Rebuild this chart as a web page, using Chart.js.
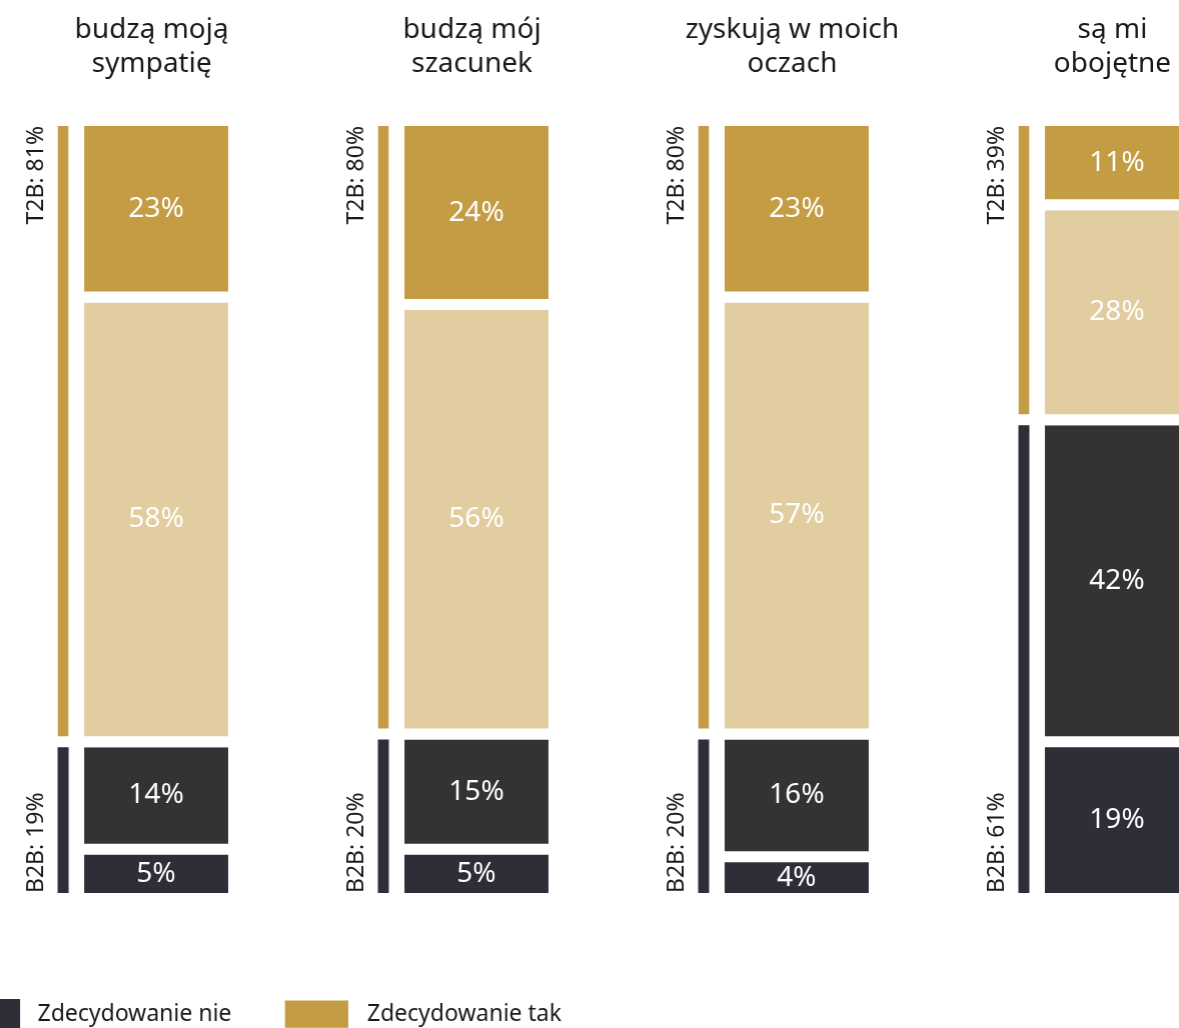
<!DOCTYPE html>
<html>
<head>
<meta charset="utf-8">
<script src="https://cdn.jsdelivr.net/npm/chart.js@4"></script>
<style>
  html, body { margin: 0; padding: 0; background: #fff; overflow: hidden; }
  #wrap { position: absolute; left: -98px; top: 2px; width: 1327.5px; height: 1037px; }
</style>
</head>
<body>
<div id="wrap"><canvas id="chart"></canvas></div>
<script>
// Survey answers per statement (percent)
const categories = [
  ["budzą moją", "sympatię"],
  ["budzą mój", "szacunek"],
  ["zyskują w moich", "oczach"],
  ["są mi", "obojętne"],
];
const zdecydowanieTak = [23, 24, 23, 11];
const raczejTak = [58, 56, 57, 28];
const raczejNie = [14, 15, 16, 42];
const zdecydowanieNie = [5, 5, 4, 19];
const t2b = [81, 80, 80, 39];
const b2b = [19, 20, 20, 61];
const legendShown = ["Zdecydowanie nie", "Zdecydowanie tak"];

const FONT = "'Noto Sans', sans-serif";
const GOLD = "#C49C44";
const BEIGE = "#E1CDA0";
const GREY = "#333333";
const NAVY = "#2E2E38";
const GAP = 11;

const segment = (label, data, color, stack, width, gapBelow) => ({
  label,
  data,
  stack,
  backgroundColor: color,
  borderColor: "#ffffff",
  borderWidth: gapBelow ? { top: 0, right: 0, bottom: GAP, left: 0 } : 0,
  borderSkipped: false,
  barPercentage: width,
  gapBelow,
});

// value text inside the bars + rotated T2B / B2B captions
const barLabels = {
  id: "barLabels",
  afterDatasetsDraw(chart) {
    const ctx = chart.ctx;
    chart.data.datasets.forEach((ds, di) => {
      const meta = chart.getDatasetMeta(di);
      meta.data.forEach((bar, i) => {
        const v = ds.data[i];
        ctx.save();
        if (ds.stack === "main") {
          const bottom = bar.base - (ds.gapBelow ? GAP : 0);
          ctx.font = `28px ${FONT}`;
          ctx.fillStyle = "#ffffff";
          ctx.textAlign = "center";
          ctx.textBaseline = "middle";
          ctx.fillText(v + "%", bar.x, (bar.y + bottom) / 2);
        } else {
          ctx.font = `23px ${FONT}`;
          ctx.fillStyle = "#1a1a1a";
          ctx.textBaseline = "middle";
          const x = bar.x - 27;
          if (ds.label === "T2B") {
            ctx.translate(x, bar.y);
            ctx.rotate(-Math.PI / 2);
            ctx.textAlign = "right";
          } else {
            ctx.translate(x, bar.base);
            ctx.rotate(-Math.PI / 2);
            ctx.textAlign = "left";
          }
          ctx.fillText(`${ds.label}: ${v}%`, 0, 0);
        }
        ctx.restore();
      });
    });
  },
};

new Chart(document.getElementById("chart"), {
  type: "bar",
  data: {
    labels: categories,
    datasets: [
      segment("B2B", b2b, NAVY, "side", 0.1183, false),
      segment("T2B", t2b, GOLD, "side", 0.1183, true),
      segment("Zdecydowanie nie", zdecydowanieNie, NAVY, "main", 1.548, false),
      segment("Raczej nie", raczejNie, GREY, "main", 1.548, true),
      segment("Raczej tak", raczejTak, BEIGE, "main", 1.548, true),
      segment("Zdecydowanie tak", zdecydowanieTak, GOLD, "main", 1.548, true),
    ],
  },
  options: {
    responsive: true,
    maintainAspectRatio: false,
    animation: false,
    layout: { padding: 0 },
    datasets: { bar: { categoryPercentage: 0.58125 } },
    scales: {
      x: {
        position: "top",
        stacked: true,
        grid: { display: false },
        border: { display: false },
        ticks: {
          font: { family: FONT, size: 28, lineHeight: 1.21 },
          color: "#1a1a1a",
          padding: 37,
          labelOffset: 42,
          maxRotation: 0,
          autoSkip: false,
        },
        afterFit: (s) => { s.height = 124; },
      },
      xb: {
        type: "category",
        position: "bottom",
        grid: { display: false },
        border: { display: false },
        ticks: { display: false },
        afterFit: (s) => { s.height = 54; },
      },
      y: {
        stacked: true,
        min: 0,
        max: 100,
        grid: { display: false },
        border: { display: false },
        ticks: { display: false },
        afterFit: (s) => { s.width = 47.5; },
      },
    },
    plugins: {
      tooltip: { enabled: false },
      legend: {
        position: "bottom",
        align: "start",
        labels: {
          boxWidth: 66,
          boxHeight: 30,
          padding: 52,
          color: "#1a1a1a",
          font: { family: FONT, size: 23 },
          generateLabels: (chart) =>
            Chart.defaults.plugins.legend.labels
              .generateLabels(chart)
              .filter((item) => legendShown.includes(item.text))
              .map((item) => ({ ...item, text: " " + item.text })),
        },
      },
    },
  },
  plugins: [barLabels],
});
</script>
</body>
</html>
